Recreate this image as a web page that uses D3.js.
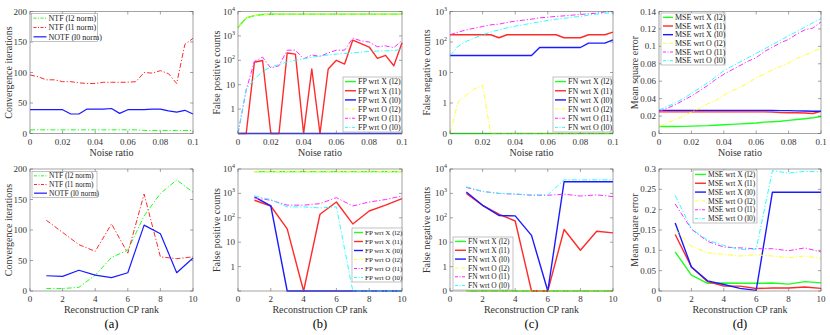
<!DOCTYPE html>
<html>
<head>
<meta charset="utf-8">
<script src="https://cdn.jsdelivr.net/npm/d3@7"></script>
<style>
  body { margin: 0; background: #fff; }
</style>
</head>
<body>
<script>
// x values
const noiseRatio = [0, 0.005, 0.01, 0.015, 0.02, 0.025, 0.03, 0.035, 0.04, 0.045, 0.05,
                    0.055, 0.06, 0.065, 0.07, 0.075, 0.08, 0.085, 0.09, 0.095, 0.1];
const cpRank = [1, 2, 3, 4, 5, 6, 7, 8, 9, 10];

// (top a) convergence iterations vs noise
const iterNoiseL2 = [6, 6, 6, 6, 6, 6, 6, 6, 6, 6, 6, 6, 6, 6, 5, 5, 5, 5, 5, 5, 5];
const iterNoiseL1 = [96, 93, 88, 88, 85, 85, 83, 82, 82, 84, 84, 84, 84, 85, 100, 99, 103, 98, 82, 146, 156];
const iterNoiseL0 = [39, 39, 39, 39, 39, 32, 32, 40, 40, 40, 41, 33, 39, 39, 39, 40, 40, 37, 35, 38, 32];

// (top b) false positives vs noise
const fpNoiseXL2 = [2200, 5500, 6800, 7500, 7700, 7800, 7800, 7800, 7800, 7800, 7800, 7800, 7800, 7800, 7800, 7800, 7800, 7800, 7800, 7800, 7800];
const fpNoiseXL1 = [0, 0, 83, 98, 0, 0, 200, 180, 0, 44, 0, 44, 100, 70, 675, 480, 350, 120, 160, 60, 520];
const fpNoiseXL0 = [0, 0, 0, 0, 0, 0, 0, 0, 0, 0, 0, 0, 0, 0, 0, 0, 0, 0, 0, 0, 0];
const fpNoiseOL2 = [2200, 5500, 6800, 7500, 7700, 7800, 7800, 7800, 7800, 7800, 7800, 7800, 7800, 7800, 7800, 7800, 7800, 7800, 7800, 7800, 7800];
const fpNoiseOL1 = [0, 6, 90, 135, 48, 60, 260, 260, 115, 165, 145, 200, 260, 260, 815, 630, 560, 360, 390, 330, 650];
const fpNoiseOL0 = [0, 6.6, 17, 35, 53, 67, 86, 100, 115, 135, 150, 165, 180, 190, 200, 215, 230, 240, 245, 250, 280];

// (top c) false negatives vs noise
const fnNoiseXL2 = [0, 0, 0, 0, 0, 0, 0, 0, 0, 0, 0, 0, 0, 0, 0, 0, 0, 0, 0, 0, 0];
const fnNoiseXL1 = [173, 173, 173, 173, 173, 173, 138, 173, 173, 173, 173, 173, 173, 173, 138, 138, 138, 173, 173, 173, 210];
const fnNoiseXL0 = [36, 36, 36, 36, 36, 36, 36, 36, 36, 36, 36, 66, 66, 66, 66, 66, 66, 92, 92, 92, 118];
const fnNoiseOL2 = [0, 1.1, 1.8, 2.9, 3.8, 0, 0, 0, 0, 0, 0, 0, 0, 0, 0, 0, 0, 0, 0, 0, 0];
const fnNoiseOL1 = [173, 211, 250, 285, 323, 366, 385, 437, 483, 520, 560, 620, 650, 690, 720, 760, 800, 840, 880, 970, 1000];
const fnNoiseOL0 = [36, 72, 105, 135, 173, 211, 250, 290, 330, 366, 415, 460, 510, 560, 600, 650, 690, 760, 820, 880, 900];

// (top d) MSE vs noise
const mseNoiseXL2 = [0.008, 0.008, 0.008, 0.0082, 0.0085, 0.0088, 0.009, 0.0095, 0.01, 0.0105, 0.011, 0.0115, 0.012, 0.013, 0.0135, 0.014, 0.015, 0.016, 0.017, 0.018, 0.0195];
const mseNoiseXL1 = [0.0248, 0.0248, 0.0248, 0.0248, 0.0248, 0.0248, 0.0248, 0.0248, 0.0248, 0.0248, 0.0248, 0.0248, 0.0248, 0.0248, 0.0245, 0.024, 0.0238, 0.0238, 0.0235, 0.023, 0.0255];
const mseNoiseXL0 = [0.0265, 0.0265, 0.0265, 0.0265, 0.0265, 0.0265, 0.0265, 0.0265, 0.0265, 0.0265, 0.0265, 0.0265, 0.0265, 0.0265, 0.0264, 0.0263, 0.0262, 0.026, 0.0258, 0.0256, 0.0255];
const mseNoiseOL2 = [0.008, 0.012, 0.016, 0.02, 0.0245, 0.029, 0.034, 0.038, 0.044, 0.049, 0.053, 0.058, 0.064, 0.068, 0.073, 0.077, 0.081, 0.086, 0.09, 0.094, 0.098];
const mseNoiseOL1 = [0.025, 0.029, 0.033, 0.038, 0.043, 0.049, 0.055, 0.062, 0.068, 0.073, 0.078, 0.083, 0.087, 0.094, 0.099, 0.104, 0.108, 0.114, 0.119, 0.121, 0.128];
const mseNoiseOL0 = [0.027, 0.031, 0.035, 0.04, 0.046, 0.052, 0.058, 0.065, 0.072, 0.077, 0.082, 0.087, 0.092, 0.097, 0.102, 0.107, 0.112, 0.117, 0.122, 0.127, 0.132];

// (bottom a) convergence iterations vs rank
const iterRankL2 = [4, 4, 6, 26, 55, 67, 123, 160, 182, 162];
const iterRankL1 = [116, 96, 76, 65, 110, 62, 159, 56, 53, 56];
const iterRankL0 = [25, 24, 34, 26, 22, 30, 108, 94, 30, 54];

// (bottom b) false positives vs rank
const fpRankXL2 = [7800, 7800, 7800, 7800, 7800, 7800, 7800, 7800, 7800, 7800];
const fpRankXL1 = [525, 305, 35, 0, 140, 445, 56, 190, 330, 610];
const fpRankXL0 = [720, 305, 0, 0, 0, 0, 0, 0, 0, 0];
const fpRankOL2 = [7800, 7800, 7800, 7800, 7800, 7800, 7800, 7800, 7800, 7800];
const fpRankOL1 = [650, 525, 330, 330, 380, 670, 305, 445, 560, 790];
const fpRankOL0 = [790, 560, 280, 280, 255, 280, 0, 0, 0, 0];

// (bottom c) false negatives vs rank
const fnRankXL2 = [0, 0, 0, 0, 0, 0, 0, 0, 0, 0];
const fnRankXL1 = [990, 325, 140, 74, 0, 0, 33, 4.7, 28, 24];
const fnRankXL0 = [1150, 325, 125, 120, 19, 0, 3000, 3000, 3000, 3000];
const fnRankOL2 = [0, 0, 0, 0, 0, 0, 0, 0, 0, 0];
const fnRankOL1 = [1750, 1200, 1000, 930, 840, 840, 930, 780, 870, 740];
const fnRankOL0 = [1860, 1200, 1000, 950, 870, 870, 3600, 3600, 3600, 3600];

// (bottom d) MSE vs rank
const mseRankXL2 = [0.096, 0.039, 0.019, 0.0195, 0.019, 0.019, 0.0195, 0.017, 0.023, 0.02];
const mseRankXL1 = [0.139, 0.059, 0.023, 0.012, 0.012, 0.006, 0.0075, 0.0075, 0.01, 0.0065];
const mseRankXL0 = [0.167, 0.059, 0.025, 0.016, 0.0065, 0.0015, 0.243, 0.243, 0.243, 0.243];
const mseRankOL2 = [0.151, 0.11, 0.094, 0.09, 0.086, 0.089, 0.086, 0.082, 0.086, 0.08];
const mseRankOL1 = [0.214, 0.152, 0.122, 0.108, 0.106, 0.104, 0.104, 0.099, 0.106, 0.096];
const mseRankOL0 = [0.235, 0.153, 0.125, 0.112, 0.102, 0.103, 0.296, 0.29, 0.294, 0.293];

const noiseTicks = [0, 0.02, 0.04, 0.06, 0.08, 0.1];
const rankTicks = [0, 2, 4, 6, 8, 10];
const iterTicks = [0, 50, 100, 150, 200];
const mseNoiseTicks = [0, 0.02, 0.04, 0.06, 0.08, 0.1, 0.12, 0.14];
const mseRankTicks = [0, 0.05, 0.1, 0.15, 0.2, 0.25, 0.3];
const logTicks4 = [0.1, 1, 10, 100, 1000, 10000];
const logTicks3 = [0.1, 1, 10, 100, 1000];

const iterNames = ["NTF (l2 norm)", "NTF (l1 norm)", "NOTF (l0 norm)"];
const sixNames = ["wrt X (l2)", "wrt X (l1)", "wrt X (l0)", "wrt O (l2)", "wrt O (l1)", "wrt O (l0)"];

const G = "#1dff1d", R = "#ff2a2a", B = "#1a1aff", Y = "#ffff2a", M = "#ff2aff", C = "#2affff";
const DASHDOT = "5,2,1.2,2";
const FONT = "'Liberation Serif', 'DejaVu Serif', 'Times New Roman', serif";

const svg = d3.select("body").append("svg")
  .attr("width", 830).attr("height", 335)
  .attr("font-family", FONT)
  .style("font-family", FONT);

function sixSeries(prefix, arrs) {
  const cols = [G, R, B, Y, M, C];
  return arrs.map((v, i) => ({
    name: prefix + " " + sixNames[i], values: v, color: cols[i],
    dash: i < 3 ? null : DASHDOT, width: i < 3 ? 1.4 : 1
  }));
}

function iterSeries(arrs) {
  return [
    { name: iterNames[0], values: arrs[0], color: G, dash: DASHDOT, width: 1 },
    { name: iterNames[1], values: arrs[1], color: R, dash: DASHDOT, width: 1 },
    { name: iterNames[2], values: arrs[2], color: B, dash: null, width: 1.2 }
  ];
}

function logLabel(sel, v, zeroLabel) {
  if (v === 0.1) { if (zeroLabel) sel.text("0"); return; }
  if (v === 1) { sel.text("1"); return; }
  if (v === 10) { sel.text("10"); return; }
  const p = Math.round(Math.log10(v));
  sel.append("tspan").text("10");
  sel.append("tspan").attr("dy", -4).attr("font-size", 6).text(p);
}

function drawPanel(p) {
  const g = svg.append("g");
  const x = d3.scaleLinear().domain(p.xDomain).range([p.left, p.right]);
  const y = p.log
    ? d3.scaleLog().domain(p.yDomain).range([p.bottom, p.top])
    : d3.scaleLinear().domain(p.yDomain).range([p.bottom, p.top]);
  const floor = p.yDomain[0];

  // lines
  const line = d3.line()
    .x(d => x(d[0]))
    .y(d => y(p.log ? Math.max(d[1], floor) : d[1]));
  p.series.forEach(s => {
    g.append("path")
      .attr("d", line(p.xs.map((xv, i) => [xv, s.values[i]])))
      .attr("fill", "none")
      .attr("stroke", s.color)
      .attr("stroke-width", s.width)
      .attr("stroke-dasharray", s.dash)
      .attr("stroke-linejoin", "round");
  });

  // box + ticks
  const ax = "#666";
  g.append("rect").attr("x", p.left).attr("y", p.top)
    .attr("width", p.right - p.left).attr("height", p.bottom - p.top)
    .attr("fill", "none").attr("stroke", ax).attr("stroke-width", 0.6);
  p.xTicks.forEach(t => {
    const xx = x(t);
    g.append("line").attr("x1", xx).attr("x2", xx).attr("y1", p.bottom).attr("y2", p.bottom - 3).attr("stroke", ax).attr("stroke-width", 0.6);
    g.append("line").attr("x1", xx).attr("x2", xx).attr("y1", p.top).attr("y2", p.top + 3).attr("stroke", ax).attr("stroke-width", 0.6);
    g.append("text").attr("x", xx).attr("y", p.bottom + 11).attr("text-anchor", "middle")
      .attr("font-size", 9).attr("fill", "#333").text(String(+t.toFixed(3)));
  });
  p.yTicks.forEach(t => {
    const yy = y(t);
    g.append("line").attr("x1", p.left).attr("x2", p.left + 3).attr("y1", yy).attr("y2", yy).attr("stroke", ax).attr("stroke-width", 0.6);
    g.append("line").attr("x1", p.right).attr("x2", p.right - 3).attr("y1", yy).attr("y2", yy).attr("stroke", ax).attr("stroke-width", 0.6);
    const tx = g.append("text").attr("x", p.left - 3).attr("y", yy + 3).attr("text-anchor", "end")
      .attr("font-size", 9).attr("fill", "#333");
    if (p.log) logLabel(tx, t, p.zeroLabel);
    else tx.text(String(+t.toFixed(3)));
  });

  // axis titles
  g.append("text").attr("x", (p.left + p.right) / 2).attr("y", p.bottom + 22)
    .attr("text-anchor", "middle").attr("font-size", 10).attr("fill", "#333").text(p.xLabel);
  g.append("text").attr("transform", `translate(${p.yLabelX},${(p.top + p.bottom) / 2}) rotate(-90)`)
    .attr("text-anchor", "middle").attr("font-size", 10).attr("fill", "#333").text(p.yLabel);
  if (p.letter) {
    g.append("text").attr("x", (p.left + p.right) / 2).attr("y", p.bottom + 37)
      .attr("text-anchor", "middle").attr("font-size", 12.5).attr("fill", "#000").text(p.letter);
  }

  // legend
  const L = p.legend;
  const lg = g.append("g");
  const rowH = L.h / p.series.length;
  lg.append("rect").attr("x", L.x).attr("y", L.y).attr("width", L.w).attr("height", L.h)
    .attr("fill", "#fff").attr("stroke", "#999").attr("stroke-width", 0.6);
  p.series.forEach((s, i) => {
    const cy = L.y + rowH * (i + 0.5);
    lg.append("line").attr("x1", L.x + 2).attr("x2", L.x + 2 + L.line).attr("y1", cy).attr("y2", cy)
      .attr("stroke", s.color).attr("stroke-width", s.width).attr("stroke-dasharray", s.dash ? "3,1.5,1,1.5" : null);
    lg.append("text").attr("x", L.x + 4 + L.line).attr("y", cy + L.fs * 0.35)
      .attr("font-size", L.fs).attr("fill", "#222").text(s.name);
  });
}

const rowTop = { top: 11.5, bottom: 133.5 };
const rowBot = { top: 169, bottom: 291 };
const cols = [
  { left: 30, right: 193, yl: 12 },
  { left: 238, right: 402, yl: 220 },
  { left: 450, right: 613, yl: 430 },
  { left: 659, right: 821, yl: 638 }
];

// top row
drawPanel({ ...rowTop, left: cols[0].left, right: cols[0].right, yLabelX: cols[0].yl,
  xs: noiseRatio, xDomain: [0, 0.1], xTicks: noiseTicks, yDomain: [0, 200], yTicks: iterTicks,
  xLabel: "Noise ratio", yLabel: "Convergence iterations",
  series: iterSeries([iterNoiseL2, iterNoiseL1, iterNoiseL0]),
  legend: { x: 31.5, y: 13.5, w: 66, h: 28, line: 13, fs: 8 } });

drawPanel({ ...rowTop, left: cols[1].left, right: cols[1].right, yLabelX: cols[1].yl,
  xs: noiseRatio, xDomain: [0, 0.1], xTicks: noiseTicks, log: true, yDomain: [0.1, 10000], yTicks: logTicks4,
  xLabel: "Noise ratio", yLabel: "False positive counts",
  series: sixSeries("FP", [fpNoiseXL2, fpNoiseXL1, fpNoiseXL0, fpNoiseOL2, fpNoiseOL1, fpNoiseOL0]),
  legend: { x: 343, y: 77, w: 58.5, h: 55, line: 11, fs: 8 } });

drawPanel({ ...rowTop, left: cols[2].left, right: cols[2].right, yLabelX: cols[2].yl,
  xs: noiseRatio, xDomain: [0, 0.1], xTicks: noiseTicks, log: true, yDomain: [0.1, 1000], yTicks: logTicks3, zeroLabel: true,
  xLabel: "Noise ratio", yLabel: "False negative counts",
  series: sixSeries("FN", [fnNoiseXL2, fnNoiseXL1, fnNoiseXL0, fnNoiseOL2, fnNoiseOL1, fnNoiseOL0]),
  legend: { x: 553, y: 77, w: 59.5, h: 55, line: 11, fs: 8 } });

drawPanel({ ...rowTop, left: cols[3].left, right: cols[3].right, yLabelX: cols[3].yl,
  xs: noiseRatio, xDomain: [0, 0.1], xTicks: noiseTicks, yDomain: [0, 0.14], yTicks: mseNoiseTicks,
  xLabel: "Noise ratio", yLabel: "Mean square error",
  series: sixSeries("MSE", [mseNoiseXL2, mseNoiseXL1, mseNoiseXL0, mseNoiseOL2, mseNoiseOL1, mseNoiseOL0]),
  legend: { x: 661, y: 13, w: 64, h: 52, line: 10, fs: 8 } });

// bottom row
drawPanel({ ...rowBot, left: cols[0].left, right: cols[0].right, yLabelX: cols[0].yl,
  xs: cpRank, xDomain: [0, 10], xTicks: rankTicks, yDomain: [0, 200], yTicks: iterTicks,
  xLabel: "Reconstruction CP rank", yLabel: "Convergence iterations", letter: "(a)",
  series: iterSeries([iterRankL2, iterRankL1, iterRankL0]),
  legend: { x: 32, y: 171.5, w: 65, h: 26, line: 13, fs: 7.5 } });

drawPanel({ ...rowBot, left: cols[1].left, right: cols[1].right, yLabelX: cols[1].yl,
  xs: cpRank, xDomain: [0, 10], xTicks: rankTicks, log: true, yDomain: [0.1, 10000], yTicks: logTicks4,
  xLabel: "Reconstruction CP rank", yLabel: "False positive counts", letter: "(b)",
  series: sixSeries("FP", [fpRankXL2, fpRankXL1, fpRankXL0, fpRankOL2, fpRankOL1, fpRankOL0]),
  legend: { x: 352, y: 228, w: 50, h: 54, line: 9, fs: 7 } });

drawPanel({ ...rowBot, left: cols[2].left, right: cols[2].right, yLabelX: cols[2].yl,
  xs: cpRank, xDomain: [0, 10], xTicks: rankTicks, log: true, yDomain: [0.1, 10000], yTicks: logTicks4, zeroLabel: true,
  xLabel: "Reconstruction CP rank", yLabel: "False negative counts", letter: "(c)",
  series: sixSeries("FN", [fnRankXL2, fnRankXL1, fnRankXL0, fnRankOL2, fnRankOL1, fnRankOL0]),
  legend: { x: 453, y: 237, w: 60, h: 53, line: 11, fs: 7.5 } });

drawPanel({ ...rowBot, left: cols[3].left, right: cols[3].right, yLabelX: cols[3].yl,
  xs: cpRank, xDomain: [0, 10], xTicks: rankTicks, yDomain: [0, 0.3], yTicks: mseRankTicks,
  xLabel: "Reconstruction CP rank", yLabel: "Mean square error", letter: "(d)",
  series: sixSeries("MSE", [mseRankXL2, mseRankXL1, mseRankXL0, mseRankOL2, mseRankOL1, mseRankOL0]),
  legend: { x: 693, y: 170, w: 64, h: 53, line: 11, fs: 7.5 } });
</script>
</body>
</html>
